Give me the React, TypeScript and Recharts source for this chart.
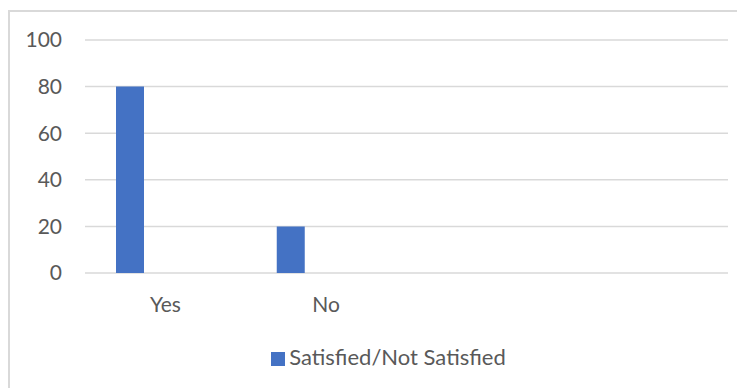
import { BarChart, Bar, XAxis, YAxis, CartesianGrid, Legend } from "recharts";

const categories = ["Yes", "No", "", ""];
const satisfied = [80, 20, null, null];
const blankSeries2 = [null, null, null, null];
const blankSeries3 = [null, null, null, null];
const yTicks = [0, 20, 40, 60, 80, 100];

const data = categories.map((name, i) => ({
  name,
  satisfied: satisfied[i],
  s2: blankSeries2[i],
  s3: blankSeries3[i],
}));

const textColor = "#595959";
const font = "Lato, 'Open Sans', sans-serif";

export default function App() {
  return (
    <div
      style={{
        marginTop: 2,
        width: 735,
        height: 376,
        borderTop: "2px solid #d9d9d9",
        borderLeft: "2px solid #d9d9d9",
        fontFamily: font,
      }}
    >
      <BarChart
        width={735}
        height={376}
        data={data}
        margin={{ top: 28, right: 17, left: 0, bottom: 85 }}
        barSize={28}
        barGap={7}
      >
        <CartesianGrid vertical={false} stroke="#d9d9d9" strokeWidth={1.5} />
        <XAxis
          dataKey="name"
          height={30}
          axisLine={false}
          tickLine={false}
          tickSize={0}
          tickMargin={24}
          tick={{ fill: textColor, fontSize: 21, fontFamily: font }}
        />
        <YAxis
          width={75}
          domain={[0, 100]}
          ticks={yTicks}
          axisLine={false}
          tickLine={false}
          tickSize={0}
          tickMargin={23}
          tick={{ fill: textColor, fontSize: 21, fontFamily: font }}
        />
        <Legend
          layout="horizontal"
          align="center"
          verticalAlign="middle"
          iconType="square"
          iconSize={14}
          wrapperStyle={{ top: 331, left: 16, width: 735, fontSize: 22, fontFamily: font }}
          formatter={(value) => <span style={{ color: textColor }}>{value}</span>}
        />
        <Bar dataKey="satisfied" name="Satisfied/Not Satisfied" fill="#4472C4" isAnimationActive={false} />
        <Bar dataKey="s2" name="s2" fill="#ED7D31" legendType="none" isAnimationActive={false} />
        <Bar dataKey="s3" name="s3" fill="#A5A5A5" legendType="none" isAnimationActive={false} />
      </BarChart>
    </div>
  );
}
